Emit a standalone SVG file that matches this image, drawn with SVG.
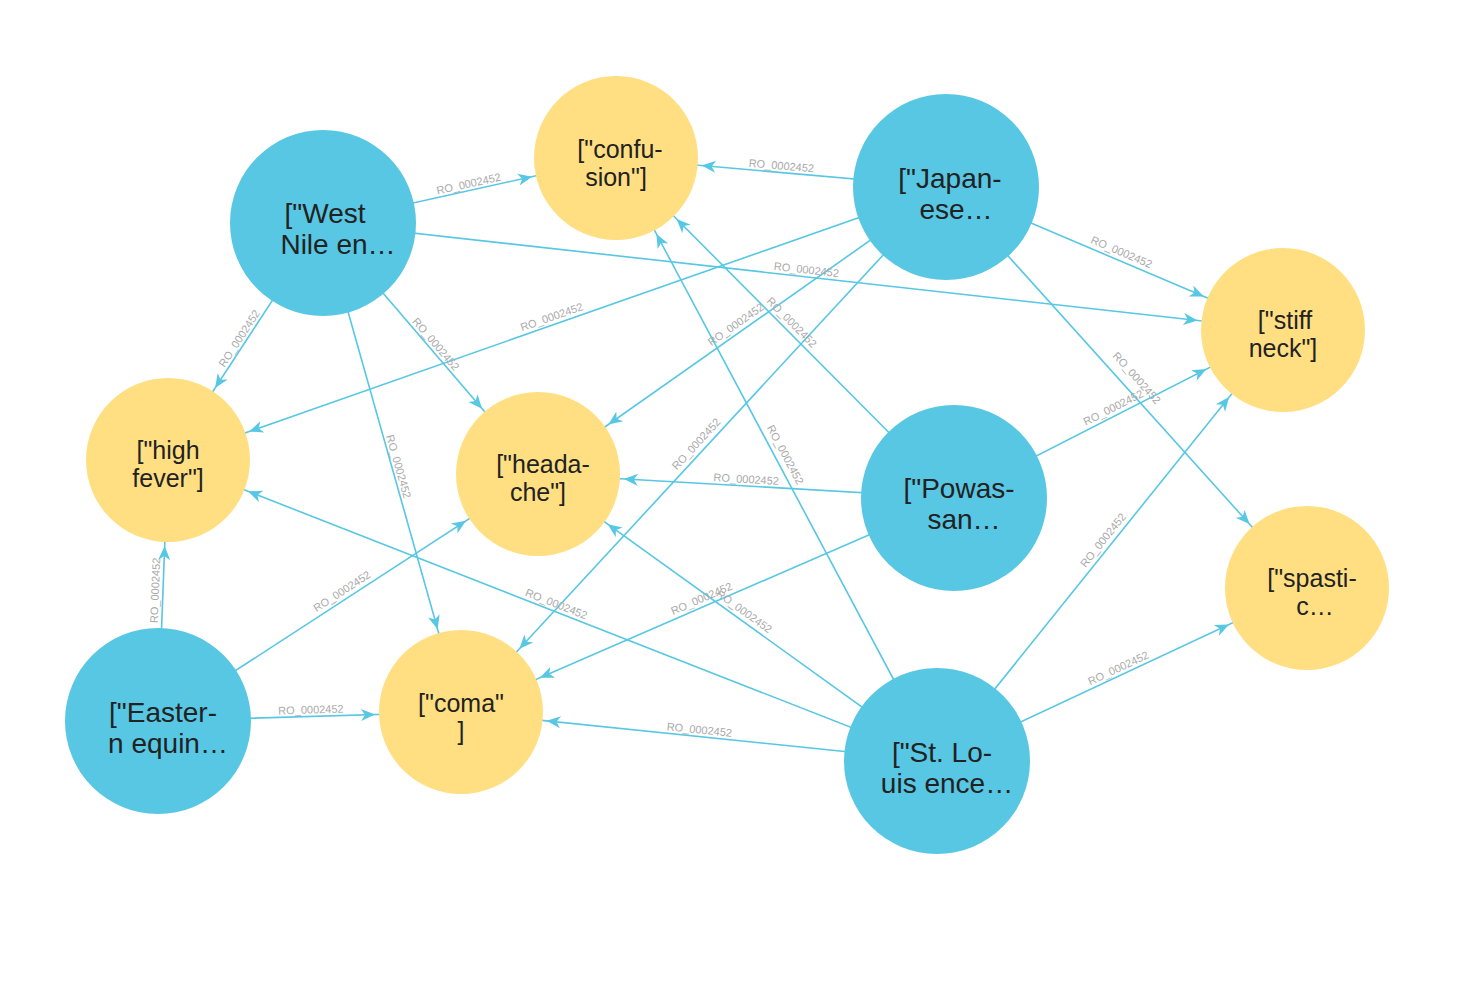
<svg xmlns="http://www.w3.org/2000/svg" width="1464" height="996" viewBox="0 0 1464 996">
<style>
.e{stroke:#57C7E3;stroke-width:1.6;fill:none;marker-end:url(#a)}
.l{font-family:"Liberation Sans",Arial,sans-serif;font-size:11px;fill:#aaaaaa;text-anchor:middle}
.b{fill:#57C7E3}
.y{fill:#FFDF81}
.t{font-family:"Liberation Sans",Arial,sans-serif;font-size:25px;fill:#222;text-anchor:middle}
.tb{font-family:"Liberation Sans",Arial,sans-serif;font-size:28px;fill:#222;text-anchor:middle}
</style>
<defs>
<marker id="a" markerUnits="userSpaceOnUse" overflow="visible" refX="86" refY="0" orient="auto" markerWidth="1" markerHeight="1">
<path d="M-14,-6 L0,0 L-14,6 L-10,0 Z" fill="#57C7E3"/>
</marker>
</defs>
<rect width="1464" height="996" fill="#fff"/>
<g id="edges">
<line class="e" x1="323" y1="223" x2="616" y2="158"/>
<line class="e" x1="323" y1="223" x2="1283" y2="330"/>
<line class="e" x1="323" y1="223" x2="168" y2="460"/>
<line class="e" x1="323" y1="223" x2="538" y2="474"/>
<line class="e" x1="323" y1="223" x2="461" y2="712"/>
<line class="e" x1="946" y1="187" x2="616" y2="158"/>
<line class="e" x1="946" y1="187" x2="1283" y2="330"/>
<line class="e" x1="946" y1="187" x2="1307" y2="588"/>
<line class="e" x1="946" y1="187" x2="168" y2="460"/>
<line class="e" x1="946" y1="187" x2="538" y2="474"/>
<line class="e" x1="946" y1="187" x2="461" y2="712"/>
<line class="e" x1="954" y1="498" x2="616" y2="158"/>
<line class="e" x1="954" y1="498" x2="1283" y2="330"/>
<line class="e" x1="954" y1="498" x2="538" y2="474"/>
<line class="e" x1="954" y1="498" x2="461" y2="712"/>
<line class="e" x1="937" y1="761" x2="616" y2="158"/>
<line class="e" x1="937" y1="761" x2="1283" y2="330"/>
<line class="e" x1="937" y1="761" x2="1307" y2="588"/>
<line class="e" x1="937" y1="761" x2="168" y2="460"/>
<line class="e" x1="937" y1="761" x2="538" y2="474"/>
<line class="e" x1="937" y1="761" x2="461" y2="712"/>
<line class="e" x1="158" y1="721" x2="168" y2="460"/>
<line class="e" x1="158" y1="721" x2="538" y2="474"/>
<line class="e" x1="158" y1="721" x2="461" y2="712"/>
<g class="l">
<text transform="translate(469.5,187.5) rotate(-12.5)">RO_0002452</text>
<text transform="translate(806,273.5) rotate(6.4)">RO_0002452</text>
<text transform="translate(242.5,340.5) rotate(-56.8)">RO_0002452</text>
<text transform="translate(433,346.5) rotate(49.4)">RO_0002452</text>
<text transform="translate(395,467.5) rotate(74.2)">RO_0002452</text>
<text transform="translate(781,169.5) rotate(5)">RO_0002452</text>
<text transform="translate(1120,255.5) rotate(23)">RO_0002452</text>
<text transform="translate(1134,380.5) rotate(48)">RO_0002452</text>
<text transform="translate(553,320.5) rotate(-19.3)">RO_0002452</text>
<text transform="translate(738,327.5) rotate(-35.1)">RO_0002452</text>
<text transform="translate(699,446.5) rotate(-47.3)">RO_0002452</text>
<text transform="translate(789,325) rotate(45.2)">RO_0002452</text>
<text transform="translate(1115,411) rotate(-27)">RO_0002452</text>
<text transform="translate(746,483) rotate(3.3)">RO_0002452</text>
<text transform="translate(703,602) rotate(-23.5)">RO_0002452</text>
<text transform="translate(782,456.5) rotate(62)">RO_0002452</text>
<text transform="translate(1106,542.5) rotate(-51.2)">RO_0002452</text>
<text transform="translate(1120,671.5) rotate(-25.1)">RO_0002452</text>
<text transform="translate(555,607.5) rotate(21.4)">RO_0002452</text>
<text transform="translate(742,614.5) rotate(35.7)">RO_0002452</text>
<text transform="translate(699,733.5) rotate(5.9)">RO_0002452</text>
<text transform="translate(159,590.5) rotate(-87.8)">RO_0002452</text>
<text transform="translate(344,594.5) rotate(-33)">RO_0002452</text>
<text transform="translate(311,713.5) rotate(-1.7)">RO_0002452</text>
</g>
</g>
<g id="westnile"><circle class="b" cx="323" cy="223" r="93"/><text class="tb" x="325" y="223">["West</text><text class="tb" x="338" y="254">Nile en…</text></g>
<g id="confusion"><circle class="y" cx="616" cy="158" r="82"/><text class="t" x="620" y="158">["confu-</text><text class="t" x="616" y="186">sion"]</text></g>
<g id="japanese"><circle class="b" cx="946" cy="187" r="93"/><text class="tb" x="950" y="188">["Japan-</text><text class="tb" x="956" y="219">ese…</text></g>
<g id="stiffneck"><circle class="y" cx="1283" cy="330" r="82"/><text class="t" x="1285" y="329">["stiff</text><text class="t" x="1283" y="357">neck"]</text></g>
<g id="highfever"><circle class="y" cx="168" cy="460" r="82"/><text class="t" x="168" y="459">["high</text><text class="t" x="168" y="487">fever"]</text></g>
<g id="headache"><circle class="y" cx="538" cy="474" r="82"/><text class="t" x="543" y="473">["heada-</text><text class="t" x="538" y="501">che"]</text></g>
<g id="powassan"><circle class="b" cx="954" cy="498" r="93"/><text class="tb" x="959" y="498">["Powas-</text><text class="tb" x="964" y="529">san…</text></g>
<g id="spastic"><circle class="y" cx="1307" cy="588" r="82"/><text class="t" x="1312" y="587">["spasti-</text><text class="t" x="1315" y="615">c…</text></g>
<g id="eastern"><circle class="b" cx="158" cy="721" r="93"/><text class="tb" x="163" y="722">["Easter-</text><text class="tb" x="168" y="753">n equin…</text></g>
<g id="coma"><circle class="y" cx="461" cy="712" r="82"/><text class="t" x="461" y="712">["coma"</text><text class="t" x="461" y="740">]</text></g>
<g id="stlouis"><circle class="b" cx="937" cy="761" r="93"/><text class="tb" x="942" y="762">["St. Lo-</text><text class="tb" x="947" y="793">uis ence…</text></g>
</svg>
